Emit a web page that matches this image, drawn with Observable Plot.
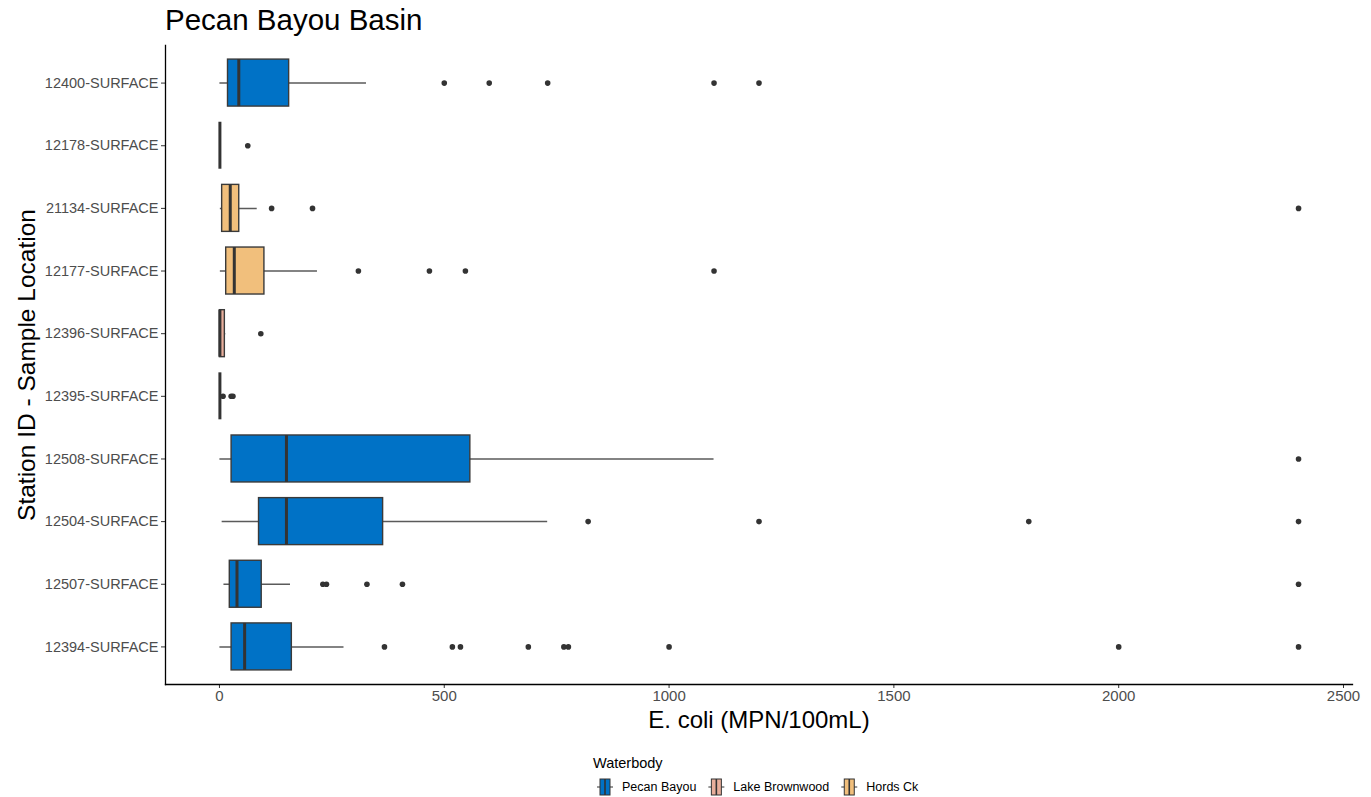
<!DOCTYPE html>
<html><head><meta charset="utf-8">
<script src="https://cdn.jsdelivr.net/npm/d3@7"></script>
<script src="https://cdn.jsdelivr.net/npm/@observablehq/plot@0.6"></script>
<style>
body{margin:0;background:#fff;font-family:"Liberation Sans",Arial,sans-serif;}
#wrap{position:relative;width:1371px;height:797px;overflow:hidden;}
#chart{position:absolute;left:0;top:0;}
#title{position:absolute;left:165px;top:3px;font-size:29.5px;color:#000;white-space:nowrap;}
#legend{position:absolute;left:585px;top:750px;}
</style></head><body>
<div id="wrap"><div id="chart"></div><div id="title">Pecan Bayou Basin</div><div id="legend"></div></div>
<script>
// Categories (top to bottom)
const stations = ["12400-SURFACE","12178-SURFACE","21134-SURFACE","12177-SURFACE","12396-SURFACE","12395-SURFACE","12508-SURFACE","12504-SURFACE","12507-SURFACE","12394-SURFACE"];
const waterbody = ["Pecan Bayou","Hords Ck","Hords Ck","Hords Ck","Lake Brownwood","Lake Brownwood","Pecan Bayou","Pecan Bayou","Pecan Bayou","Pecan Bayou"];
const waterbodyNames = ["Pecan Bayou","Lake Brownwood","Hords Ck"];
const waterbodyColors = ["#0072C6","#E8AE9B","#F1BF7C"];
// Box statistics (E. coli MPN/100mL)
const whiskerLow = [1, 1, 2, 2, 1, 1, 1, 6, 10, 1];
const q1 =         [19, 1, 6, 15, 1, 1, 27, 88, 23, 27];
const median =     [43, 1, 24, 33, 1, 1, 149, 149, 39, 56];
const q3 =         [155, 1, 44, 100, 12, 1, 558, 364, 94, 161];
const whiskerHigh =[327, 1, 84, 218, 14, 1, 1100, 730, 158, 277];
const outliers = [
  [500, 600, 730, 1100, 1200],
  [63],
  [116, 207, 2400],
  [309, 467, 547, 1100],
  [92],
  [8, 26, 30],
  [2400],
  [820, 1200, 1800, 2400],
  [230, 238, 328, 407, 2400],
  [367, 518, 536, 687, 766, 776, 1000, 2000, 2400]
];
const xTicks = [0, 500, 1000, 1500, 2000, 2500];

const rows = stations.map((s, i) => ({station: s, wb: waterbody[i], lo: whiskerLow[i], q1: q1[i], med: median[i], q3: q3[i], hi: whiskerHigh[i]}));
const outs = stations.flatMap((s, i) => outliers[i].map(v => ({station: s, value: v})));

const inset = 639 / 10.2 * 0.125;
const font = "Liberation Sans, Arial, sans-serif";

const plot = Plot.plot({
  width: 1371, height: 740,
  marginLeft: 165, marginRight: 19, marginTop: 45, marginBottom: 56,
  style: {fontFamily: font, background: "#fff", color: "#4d4d4d"},
  x: {domain: [-120, 2520], label: null},
  y: {domain: stations, type: "band", paddingInner: 0, paddingOuter: 0.1, round: false, label: null},
  color: {domain: waterbodyNames, range: waterbodyColors},
  marks: [
    Plot.ruleY(rows, {y: "station", x1: "lo", x2: "hi", stroke: "#5a5a5a", strokeWidth: 1.5}),
    Plot.barX(rows, {y: "station", x1: "q1", x2: "q3", fill: "wb", stroke: "#3a3a3a", strokeWidth: 1.4, insetTop: inset, insetBottom: inset}),
    Plot.tickX(rows, {y: "station", x: "med", stroke: "#333", strokeWidth: 3, insetTop: inset, insetBottom: inset}),
    Plot.dot(outs, {y: "station", x: "value", r: 2.8, fill: "#333", stroke: null}),
    Plot.axisX({ticks: xTicks, tickFormat: d => String(d), tickSize: 4, tickPadding: 2, fontSize: 15, stroke: "#333", fill: "#4d4d4d", label: null}),
    Plot.axisY({tickSize: 4, tickPadding: 3, fontSize: 14.5, stroke: "#333", fill: "#4d4d4d", label: null}),
    Plot.frame({anchor: "left", stroke: "#000", strokeWidth: 1.3}),
    Plot.frame({anchor: "bottom", stroke: "#000", strokeWidth: 1.3}),
    Plot.text(["E. coli (MPN/100mL)"], {frameAnchor: "bottom", dy: 43, fontSize: 24, fill: "#000"}),
    Plot.text(["Station ID - Sample Location"], {frameAnchor: "left", textAnchor: "middle", dx: -138, rotate: -90, fontSize: 24.5, fill: "#000"})
  ]
});
document.getElementById("chart").appendChild(plot);

// Legend
const leg = d3.select("#legend").append("svg").attr("width", 380).attr("height", 47)
  .style("font-family", font);
leg.append("text").attr("x", 8).attr("y", 18).attr("font-size", 14.5).attr("fill", "#000").text("Waterbody");
let gx = 12;
const cy = 37;
waterbodyNames.forEach((name, i) => {
  const g = leg.append("g");
  g.append("line").attr("x1", gx).attr("x2", gx + 16).attr("y1", cy).attr("y2", cy).attr("stroke", "#333").attr("stroke-width", 1);
  g.append("rect").attr("x", gx + 3).attr("y", cy - 8).attr("width", 10).attr("height", 16).attr("fill", waterbodyColors[i]).attr("stroke", "#333").attr("stroke-width", 1);
  g.append("line").attr("x1", gx + 8).attr("x2", gx + 8).attr("y1", cy - 8).attr("y2", cy + 8).attr("stroke", "#333").attr("stroke-width", 1.6);
  const t = g.append("text").attr("x", gx + 25).attr("y", cy + 4).attr("font-size", 12.5).attr("fill", "#000").text(name);
  gx = gx + 25 + t.node().getComputedTextLength() + 12;
});
</script>
</body></html>
